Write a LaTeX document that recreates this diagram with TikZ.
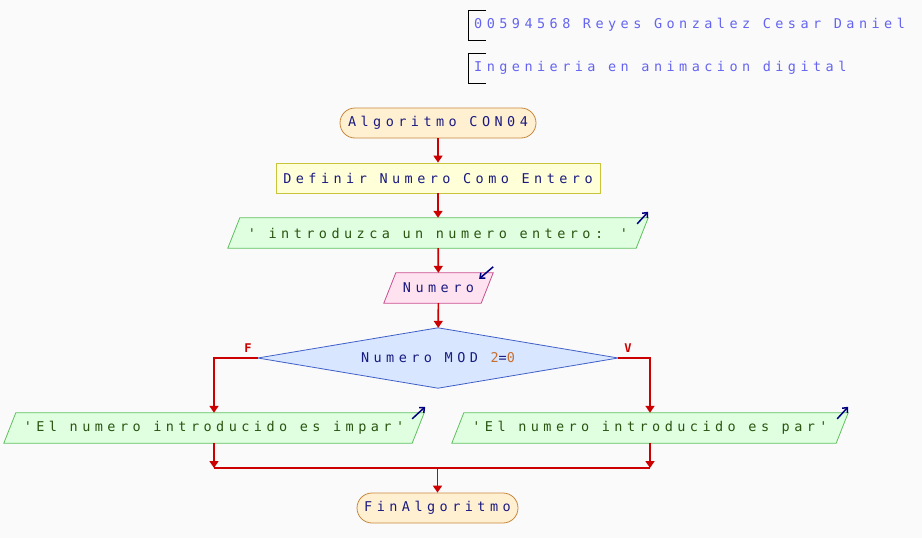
\documentclass[tikz,border=0pt]{standalone}
\usepackage{fontspec}
\usetikzlibrary{shapes.geometric,arrows.meta,calc,backgrounds}
\newfontfamily\diafont{DejaVu Sans Mono}[LetterSpace=33]
\newfontfamily\labfont{DejaVu Sans Mono Bold}
\definecolor{bgc}{HTML}{FAFAFA}
\definecolor{termfill}{HTML}{FFF0D2}
\definecolor{termdraw}{HTML}{C8883C}
\definecolor{procfill}{HTML}{FFFFD8}
\definecolor{procdraw}{HTML}{C8C43C}
\definecolor{outfill}{HTML}{E0FFE0}
\definecolor{outdraw}{HTML}{60C060}
\definecolor{infill}{HTML}{FFE2F0}
\definecolor{indraw}{HTML}{C85090}
\definecolor{decfill}{HTML}{D8E6FF}
\definecolor{decdraw}{HTML}{4060C8}
\definecolor{flowc}{HTML}{CC0000}
\definecolor{navy}{HTML}{1A1A80}
\definecolor{txtgreen}{HTML}{2A5410}
\definecolor{hdr}{HTML}{6464F0}
\definecolor{numc}{HTML}{C87030}
\definecolor{iconc}{HTML}{000080}
\tikzset{
  base/.style={inner sep=0pt, font=\diafont\fontsize{13.5}{15}\selectfont, text=navy},
  term/.style={base, draw=termdraw, fill=termfill, line width=0.8pt, rounded corners=15pt, minimum height=30pt},
  proc/.style={base, draw=procdraw, fill=procfill, line width=0.8pt, minimum height=30pt},
  iobox/.style={base, minimum height=30pt},
  flow/.style={draw=flowc, line width=1.7pt, -{Triangle[length=7pt,width=9pt]}},
  flowline/.style={draw=flowc, line width=1.7pt},
  icon/.style={draw=iconc, line width=1.5pt, -{Straight Barb[length=4pt,width=7pt]}},
  hdrtxt/.style={inner sep=0pt, anchor=west, font=\diafont\fontsize{13.5}{15}\selectfont, text=hdr},
  brk/.style={draw=black, line width=0.8pt},
  lab/.style={inner sep=0pt, font=\labfont\fontsize{12}{14}\selectfont, text=flowc}
}
\begin{document}
\begin{tikzpicture}[x=1pt,y=-1pt]
\useasboundingbox (0,0) rectangle (922,538);

% header
\draw[brk] (486,10) -- (468,10) -- (468,40) -- (486,40);
\node[hdrtxt] (h1) at (474,25) {00594568 Reyes Gonzalez Cesar Daniel};
\draw[brk] (486,53) -- (468,53) -- (468,83) -- (486,83);
\node[hdrtxt] (h2) at (474,68) {Ingenieria en animacion digital};

% nodes
\node[term, minimum width=196pt] (start) at (438,123) {Algoritmo CON04};
\node[proc, minimum width=324pt] (def) at (438,178) {Definir Numero Como Entero};
\node[iobox, minimum width=420pt, text=txtgreen] (out1) at (438,233) {' introduzca un numero entero: '};
\node[iobox, minimum width=109pt] (in1) at (438.5,288) {Numero};
\node[iobox, minimum width=360pt, minimum height=60pt] (dec) at (438,358) {Numero MOD \textcolor{numc}{2}=\textcolor{numc}{0}};
\node[iobox, minimum width=420pt, text=txtgreen] (outL) at (214,428) {'El numero introducido es impar'};
\node[iobox, minimum width=396pt, text=txtgreen] (outR) at (650,428) {'El numero introducido es par'};
\node[term, minimum width=161pt] (fin) at (437.5,508) {FinAlgoritmo};

% shapes behind the texts
\begin{scope}[on background layer]
\fill[bgc] (0,0) rectangle (922,538);
\foreach \n/\f/\d in {out1/outfill/outdraw, outL/outfill/outdraw, outR/outfill/outdraw, in1/infill/indraw}{
  \filldraw[fill=\f, draw=\d, line width=0.8pt]
    (\n.south west) -- ($(\n.north west)+(12,0)$) -- (\n.north east)
    -- ($(\n.south east)+(-12,0)$) -- cycle;
}
\filldraw[fill=decfill, draw=decdraw, line width=0.8pt]
  (dec.north) -- (dec.east) -- (dec.south) -- (dec.west) -- cycle;
\end{scope}

% icons
\draw[icon] ($(out1.north east)+(-11,6)$) -- ($(out1.north east)+(0,-6)$);
\draw[icon] ($(outL.north east)+(-12,6)$) -- ($(outL.north east)+(1,-6)$);
\draw[icon] ($(outR.north east)+(-11,6)$) -- ($(outR.north east)+(0,-6)$);
\draw[icon] ($(in1.north east)+(0,-6)$) -- ($(in1.north east)+(-14,6)$);

% connectors
\draw[flow] (start) -- (def);
\draw[flow] (def) -- (out1);
\draw[flow] (out1) -- (in1);
\draw[flow] (in1) -- (dec);
\draw[flow] (dec.west) -| (outL.north);
\draw[flow] (dec.east) -| (outR.north);
\node[lab] (lf) at (248,348) {F};
\node[lab] (lv) at (628,348) {V};
\coordinate (m) at (437.5,468);
\coordinate (mL) at (outL.south |- m);
\coordinate (mR) at (outR.south |- m);
\draw[flow] (outL.south) -- (mL);
\draw[flow] (outR.south) -- (mR);
\draw[flowline] (mL) -- (mR);
\draw[flow] (m) -- (fin);
\end{tikzpicture}
\end{document}
